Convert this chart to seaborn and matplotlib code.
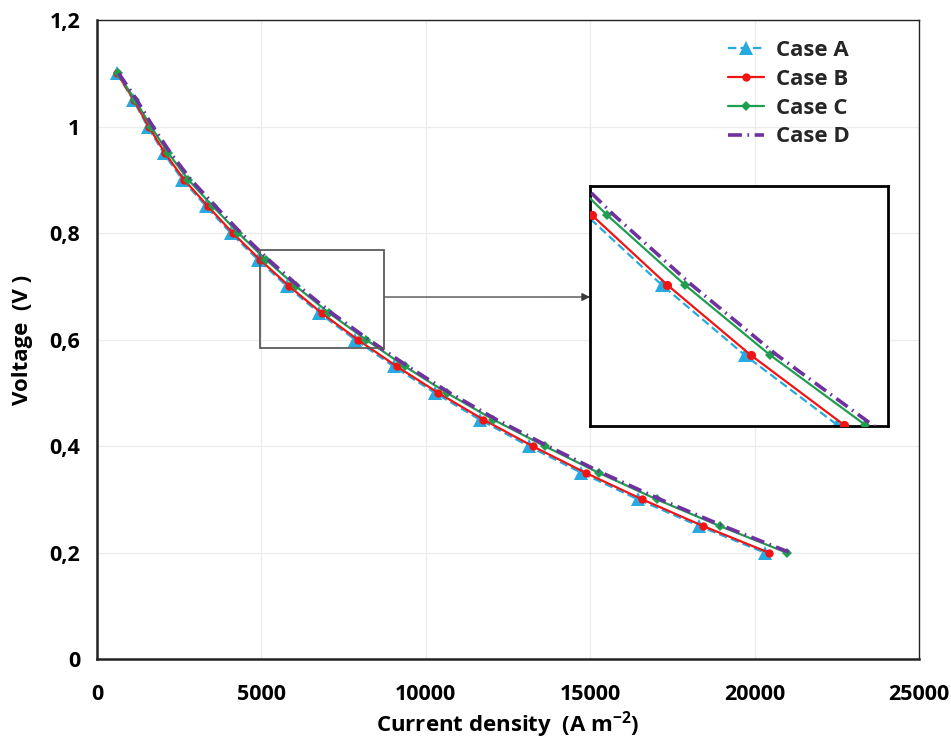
import matplotlib
matplotlib.use("Agg")
import matplotlib.pyplot as plt
import pandas as pd
import seaborn as sns
from matplotlib.patches import Rectangle

# Polarization curves: cell voltage against current density
voltage = [1.10, 1.05, 1.00, 0.95, 0.90, 0.85, 0.80, 0.75, 0.70, 0.65,
           0.60, 0.55, 0.50, 0.45, 0.40, 0.35, 0.30, 0.25, 0.20]
case_a = [600, 1100, 1540, 2030, 2600, 3325, 4070, 4895, 5785, 6760,
          7850, 9020, 10280, 11640, 13130, 14735, 16460, 18315, 20320]
case_b = [610, 1120, 1570, 2070, 2650, 3380, 4130, 4960, 5850, 6830,
          7930, 9110, 10380, 11750, 13250, 14860, 16590, 18440, 20440]
case_c = [630, 1160, 1640, 2170, 2780, 3530, 4300, 5140, 6058, 7058,
          8180, 9360, 10640, 12050, 13620, 15260, 17030, 18945, 20980]
case_d = [660, 1210, 1700, 2240, 2860, 3610, 4380, 5220, 6138, 7138,
          8265, 9450, 10730, 12150, 13720, 15360, 17140, 19055, 21090]
case_names = ["Case A", "Case B", "Case C", "Case D"]

x_ticks = [0, 5000, 10000, 15000, 20000, 25000]
x_tick_labels = ["0", "5000", "10000", "15000", "20000", "25000"]
y_ticks = [0, 0.2, 0.4, 0.6, 0.8, 1.0, 1.2]
y_tick_labels = ["0", "0,2", "0,4", "0,6", "0,8", "1", "1,2"]

frames = []
for name, cur in zip(case_names, [case_a, case_b, case_c, case_d]):
    frames.append(pd.DataFrame({"current": cur, "voltage": voltage, "case": name}))
df = pd.concat(frames, ignore_index=True)

FONT = "Open Sans"
sns.set_theme(style="white")
plt.rcParams["font.family"] = [FONT, "DejaVu Sans"]
plt.rcParams["font.weight"] = "bold"
plt.rcParams["mathtext.fontset"] = "custom"
plt.rcParams["mathtext.rm"] = FONT + ":bold"
plt.rcParams["mathtext.bf"] = FONT + ":bold"
plt.rcParams["lines.scale_dashes"] = False

styles = {
    "Case A": dict(color="#27a9e1", marker="^", ms=9.5, ls=(0, (6, 3)), lw=1.6, z=2),
    "Case B": dict(color="#f01414", marker="o", ms=6.0, ls="-", lw=1.6, z=3),
    "Case C": dict(color="#1e9e4e", marker="D", ms=5.0, ls="-", lw=1.6, z=4),
    "Case D": dict(color="#7030a0", marker=None, ms=0, ls=(0, (10, 4, 1.2, 4)), lw=2.6, z=5),
}

fig = plt.figure(figsize=(9.51, 7.47), dpi=100)
ax = fig.add_axes([97 / 951, 1 - 659.3 / 747, (919 - 97) / 951, (659.3 - 20) / 747])


def draw(target, scale=1.0, with_label=True):
    for name in case_names:
        st = styles[name]
        sub = df[df["case"] == name]
        kw = {}
        if st["marker"] is not None:
            kw = dict(marker=st["marker"], markersize=st["ms"] * scale,
                      markeredgewidth=0, markerfacecolor=st["color"])
        sns.lineplot(data=sub, x="current", y="voltage", ax=target, sort=False,
                     color=st["color"], linestyle=st["ls"], linewidth=st["lw"],
                     label=name if with_label else None, zorder=st["z"],
                     legend=False, **kw)


draw(ax)

ax.set_xlim(0, 25000)
ax.set_ylim(0, 1.2)
ax.set_xticks(x_ticks)
ax.set_xticklabels(x_tick_labels)
ax.set_yticks(y_ticks)
ax.set_yticklabels(y_tick_labels)
ax.tick_params(axis="both", length=0, labelsize=15.5, colors="black")
ax.tick_params(axis="x", pad=18)
ax.tick_params(axis="y", pad=12)
for lab in ax.get_xticklabels() + ax.get_yticklabels():
    lab.set_fontweight("bold")
ax.grid(True, color="#ececec", linewidth=0.9)
ax.set_axisbelow(True)
for side, sp in ax.spines.items():
    sp.set_visible(True)
    sp.set_color("#222222")
    sp.set_linewidth(1.8 if side in ("left", "bottom") else 1.0)

ax.set_xlabel(r"Current density  (A m$^{\mathbf{-2}}$)", fontsize=16,
              fontweight="bold", color="black", labelpad=3)
ax.set_ylabel("Voltage  (V )", fontsize=16, fontweight="bold", color="black",
              labelpad=12)

handles, labels = ax.get_legend_handles_labels()
ax.legend(handles, labels, frameon=False, loc="upper left",
          bbox_to_anchor=(717 / 951, 1 - 29 / 747), bbox_transform=fig.transFigure,
          handlelength=1.6, handletextpad=0.55, labelspacing=0.35,
          borderpad=0, prop={"family": [FONT, "DejaVu Sans"], "weight": "bold", "size": 16})

# Zoom window and its enlarged view
ax.add_patch(Rectangle((4957, 0.584), 8729 - 4957, 0.768 - 0.584, fill=False,
                       edgecolor="#5a5a5a", linewidth=1.3, zorder=6))

ax_in = fig.add_axes([590 / 951, 1 - 426 / 747, 298 / 951, 240 / 747])
draw(ax_in, scale=1.1, with_label=False)
ax_in.set_xlim(4940, 8446)
ax_in.set_ylim(0.5993, 0.7707)
ax_in.set_xticks([])
ax_in.set_yticks([])
ax_in.set_xlabel("")
ax_in.set_ylabel("")
ax_in.set_facecolor("white")
for sp in ax_in.spines.values():
    sp.set_visible(True)
    sp.set_color("black")
    sp.set_linewidth(2.0)

ax.annotate("", xy=(0.0, (426 - 297) / 240), xycoords=ax_in.transAxes,
            xytext=(8729, 0.680), textcoords="data",
            arrowprops=dict(arrowstyle="-|>", color="#3a3a3a", lw=0.9,
                            mutation_scale=12, shrinkA=0, shrinkB=0))

fig.savefig("out.png", dpi=100)
